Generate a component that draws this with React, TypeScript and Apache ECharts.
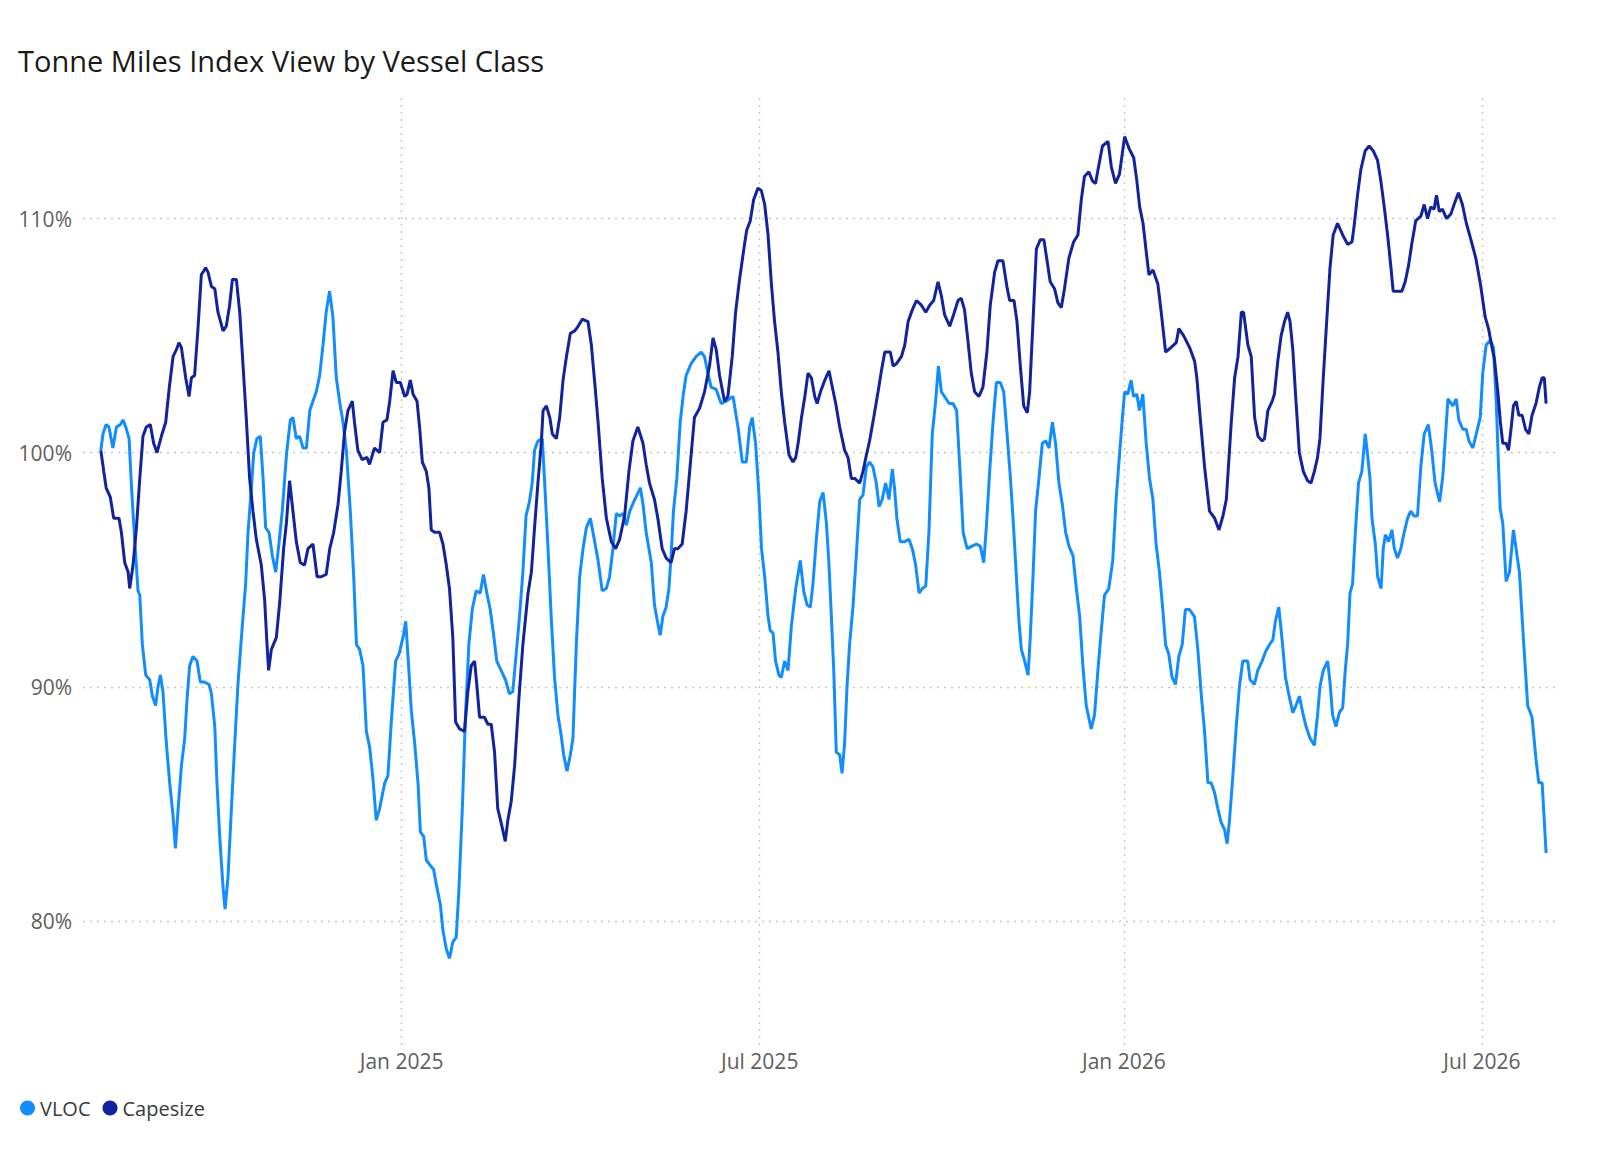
import * as echarts from "echarts";
import { useEffect, useRef } from "react";

// day 0 of both series = 2 Aug 2024
const START = Date.UTC(2024, 7, 2);
const DAY = 86400000;

const MONTHS = ["Jan", "Feb", "Mar", "Apr", "May", "Jun", "Jul", "Aug", "Sep", "Oct", "Nov", "Dec"];
const X_MIN = Date.UTC(2024, 6, 24);
const X_MAX = Date.UTC(2026, 7, 8, 10);
const Y_MIN = 74.7;
const Y_MAX = 115.15;

const TITLE = "Tonne Miles Index View by Vessel Class";
const SERIES_NAMES = ["VLOC", "Capesize"];
const COLORS = ["#118DFF", "#12239E"];

// [days since START, index %]
const vloc: [number, number][] = [
  [0, 100.1], [1.1, 100.8], [2.7, 101.2], [4.1, 101.1], [6.1, 100.2], [7.9, 101.1], [9.9, 101.2], [11.2, 101.4],
  [12.6, 101.1], [14.3, 100.6], [15.4, 98.7], [17.1, 96.3], [18.8, 94.1], [19.7, 93.9], [21, 91.8], [22.7, 90.5],
  [24.7, 90.3], [26.1, 89.6], [27.7, 89.2], [28.9, 90], [30.1, 90.5], [31.4, 89.8], [33.1, 87.6], [34.8, 85.9],
  [36.5, 84.5], [37.7, 83.1], [39, 84.7], [40.7, 86.6], [42.4, 87.8], [43.6, 89.5], [44.9, 90.9], [46.6, 91.3],
  [48.6, 91.1], [50.3, 90.2], [52.5, 90.2], [54.7, 90.1], [55.9, 89.7], [57.6, 88.3], [58.7, 85.9], [60.1, 83.6],
  [61.8, 81.4], [62.8, 80.5], [64.3, 81.9], [66, 84.8], [67.7, 87.6], [69.3, 90.1], [71.5, 92.6], [73.2, 94.4],
  [74.4, 96.6], [76.1, 98.5], [77.3, 100], [78.9, 100.6], [80.6, 100.7], [82, 98.9], [83.3, 96.8], [85, 96.6],
  [86.7, 95.6], [88.4, 94.9], [90, 96.1], [91.7, 97.5], [93.8, 99.9], [95.8, 101.4], [97.1, 101.5], [98.8, 100.6],
  [100.5, 100.7], [102.2, 100.2], [103.9, 100.2], [105.6, 101.8], [107.2, 102.2], [108.9, 102.6], [110.6, 103.3],
  [112.3, 104.6], [113.9, 106], [115.6, 106.9], [117.3, 105.8], [119, 103.2], [121, 102], [122.4, 101.3],
  [124.1, 100.1], [126.1, 97.5], [127.8, 94.7], [129.2, 91.8], [130.8, 91.6], [132.5, 90.9], [134.2, 88.1],
  [135.9, 87.4], [137.5, 86.1], [139.2, 84.3], [140.9, 84.8], [143.5, 85.9], [145.1, 86.2], [146.8, 88.5],
  [149, 91.1], [150.7, 91.4], [152.7, 92.1], [154.1, 92.8], [155.7, 90.7], [156.9, 89], [158.6, 87.6],
  [160.3, 85.9], [161.5, 83.8], [163.2, 83.6], [164.5, 82.6], [166.2, 82.4], [168.2, 82.2], [169.9, 81.4],
  [171.6, 80.7], [172.9, 79.6], [174.6, 78.8], [176.2, 78.4], [177.9, 79.1], [179.6, 79.3], [180.9, 81.2],
  [182.7, 84.8], [184.3, 88.8], [186, 91.8], [187.7, 93.3], [189.7, 94.1], [191.7, 94], [193.4, 94.8],
  [195.1, 94], [196.8, 93.3], [198.4, 92.3], [200.1, 91.1], [202.3, 90.7], [204.5, 90.3], [206.5, 89.7],
  [208.2, 89.8], [209.9, 91.4], [211.6, 93], [213.3, 94.9], [214.9, 97.3], [216.6, 97.9], [218, 98.7],
  [219.2, 100.1], [220.9, 100.5], [223.1, 100.6], [224.2, 98.9], [225.9, 96.1], [227.6, 93], [229.3, 90.4],
  [231, 88.8], [232.7, 87.9], [233.9, 87.1], [235.6, 86.4], [237.3, 87.1], [238.6, 87.8], [240.3, 91.8],
  [242, 94.7], [243.7, 95.9], [245.4, 96.8], [247.4, 97.2], [249.6, 96.2], [251.3, 95.4], [253.4, 94.1],
  [255.5, 94.2], [257.1, 94.7], [258.8, 95.9], [260.5, 97.4], [262.2, 97.3], [263.9, 97.4], [265.6, 96.9],
  [267.3, 97.5], [269.3, 97.9], [271, 98.2], [272.7, 98.5], [274, 97.8], [275.6, 96.6], [278.2, 95.3],
  [279.8, 93.5], [281.5, 92.7], [282.7, 92.2], [284, 93], [285.7, 93.4], [287.1, 94.2], [288.2, 95.6],
  [289.4, 97.5], [291.1, 98.9], [292.8, 101.3], [294.4, 102.5], [295.8, 103.3], [298.3, 103.8], [300.8, 104.1],
  [303.4, 104.3], [305.1, 104.1], [306.8, 103.4], [308.4, 102.8], [311, 102.7], [313.5, 102.1], [316, 102.2],
  [319.5, 102.4], [322, 101.1], [324.2, 99.6], [326.2, 99.6], [327.9, 101.1], [329.2, 101.5], [330.9, 100.4],
  [332.6, 98.2], [333.9, 95.9], [335.5, 94.7], [337.2, 93], [338.3, 92.4], [339.7, 92.3], [341, 91.1],
  [342.7, 90.5], [343.9, 90.4], [345.6, 91.1], [347.3, 90.7], [349, 92.6], [351.2, 94.2], [353.5, 95.4],
  [355.2, 94.1], [356.9, 93.5], [358.6, 93.4], [359.9, 94.4], [361.6, 96.3], [363.3, 97.9], [365, 98.3],
  [366.7, 97], [368, 95.2], [369.2, 93], [370.4, 90.7], [371.7, 87.2], [373.4, 87.1], [374.6, 86.3],
  [375.9, 87.6], [377.1, 90], [378.4, 91.8], [380.1, 93.4], [381.8, 95.6], [383.5, 98], [385.2, 98.2],
  [386.9, 99.4], [388.5, 99.6], [390.2, 99.4], [391.9, 98.7], [393.3, 97.7], [394.9, 98], [396.6, 98.7],
  [398.3, 98], [400, 99.3], [401.1, 98.5], [402.3, 97.2], [404, 96.2], [406.2, 96.2], [408.4, 96.3],
  [410.1, 95.9], [411.8, 95.2], [413.5, 94], [415.2, 94.2], [416.9, 94.3], [418.5, 96.6], [420.2, 100.8],
  [421.9, 102.2], [423.3, 103.7], [424.8, 102.6], [426.4, 102.4], [428.7, 102.1], [430.7, 102.1], [432.5, 101.8],
  [434.1, 99.4], [435.8, 96.6], [437.8, 95.9], [440, 96], [442.5, 96.1], [444.5, 96], [446.2, 95.3],
  [447.5, 96.8], [449.2, 99.2], [450.9, 101.3], [452.6, 103], [454.6, 103], [456.3, 102.6], [458, 100.8],
  [459.7, 98.9], [461.3, 96.8], [462.7, 94.7], [464, 92.8], [465.2, 91.6], [466.9, 91.1], [468.6, 90.5],
  [469.7, 92.1], [471.1, 94.7], [472.4, 97.5], [474.1, 98.9], [475.8, 100.4], [477.5, 100.5], [479.2, 100.2],
  [480.9, 101.3], [482.5, 100.4], [484.2, 98.7], [485.9, 97.8], [487.6, 96.6], [489.3, 96], [491.3, 95.6],
  [493, 94.2], [494.7, 93], [496.3, 90.9], [498, 89.2], [500.5, 88.2], [502.2, 88.8], [503.9, 90.7],
  [505.6, 92.4], [507.2, 93.9], [509.4, 94.2], [511.4, 95.4], [513.1, 98], [514.8, 99.9], [516.1, 101.3],
  [517.4, 102.6], [519, 102.5], [520.7, 103.1], [521.9, 102.4], [523.6, 102.5], [524.9, 101.8], [526.6, 102.5],
  [528.3, 100.4], [530, 98.9], [531.7, 98], [533.3, 96.1], [535, 94.9], [536.7, 93.3], [538.1, 91.8],
  [539.7, 91.4], [541.4, 90.4], [543.1, 90.1], [544.8, 91.3], [546.5, 91.8], [548.1, 93.3], [550.2, 93.3],
  [552.7, 93], [554.4, 91.6], [556.1, 89.7], [557.8, 88.1], [559.5, 85.9], [561.1, 85.9], [562.8, 85.5],
  [564.5, 84.8], [566.2, 84.2], [567.9, 83.9], [569.2, 83.3], [570.4, 84.3], [572.1, 86.2], [573.8, 88.3],
  [575.4, 90], [577.1, 91.1], [579.6, 91.1], [580.8, 90.3], [583, 90.1], [584.7, 90.7], [586.9, 91.1],
  [588.6, 91.5], [590.6, 91.8], [592.3, 92], [593.6, 92.8], [595.3, 93.4], [597, 92], [598.7, 90.4],
  [600.3, 89.7], [602.4, 88.9], [604, 89.2], [605.7, 89.6], [607.4, 88.9], [609.1, 88.3], [611.1, 87.8],
  [613.3, 87.5], [614.9, 88.8], [616.1, 90], [617.8, 90.7], [620, 91.1], [621.2, 90.2], [622.5, 88.8],
  [624.2, 88.3], [625.9, 88.9], [627.6, 89.1], [628.9, 90.7], [630.1, 91.8], [631.3, 94], [632.6, 94.4],
  [634, 96.6], [635.6, 98.7], [637.3, 99.2], [639, 100.8], [640.2, 99.9], [641.4, 98.9], [642.4, 97.2],
  [644.1, 96.1], [645.3, 94.7], [647, 94.2], [648.1, 95.9], [649.2, 96.5], [650.8, 96.2], [652.5, 96.7],
  [653.7, 95.9], [655.3, 95.5], [657, 95.9], [658.7, 96.6], [660.4, 97.2], [662, 97.5], [663.7, 97.3],
  [665.4, 97.3], [667.1, 99.4], [668.8, 100.8], [670.9, 101.2], [672.6, 100.1], [674.3, 98.7], [676.6, 97.9],
  [678.2, 99], [680.8, 102.3], [683.3, 102], [685, 102.3], [686.3, 101.4], [688.3, 101], [690, 101],
  [691.4, 100.5], [693.4, 100.2], [695.1, 100.8], [697.1, 101.5], [698.4, 103.4], [700.1, 104.6], [702.2, 104.8],
  [703.8, 104.5], [705.2, 102.2], [706.5, 99.1], [707.2, 97.6], [708.5, 97], [710.2, 94.5], [711.9, 94.9],
  [713.9, 96.7], [716.9, 94.9], [718.9, 92.1], [721.1, 89.2], [723.3, 88.7], [725.3, 86.9], [726.7, 85.9],
  [728.4, 85.9], [730.4, 82.9],
];

const capesize: [number, number][] = [
  [0, 100.1], [1.5, 99.2], [2.7, 98.5], [4.8, 98.1], [6.5, 97.2], [9.2, 97.2], [10.4, 96.6], [12.1, 95.3],
  [13.8, 94.9], [14.6, 94.2], [16.3, 95.2], [18, 96.8], [19.7, 98.9], [21.3, 100.7], [23, 101.1], [25, 101.2],
  [26.7, 100.4], [28.4, 100], [30.6, 100.7], [32.8, 101.3], [34.5, 102.7], [36.5, 104.1], [38.2, 104.4],
  [39.5, 104.7], [40.7, 104.5], [42.9, 103.2], [44.6, 102.4], [45.8, 103.2], [47.4, 103.3], [49.1, 105.3],
  [50.8, 107.6], [53, 107.9], [54.2, 107.7], [55.9, 107.1], [57.6, 107], [59.2, 106], [61.8, 105.2],
  [63.4, 105.4], [65.1, 106.3], [66.5, 107.4], [68.5, 107.4], [70.2, 106], [71.9, 103.7], [73.5, 101.5],
  [75.2, 98.9], [76.9, 97.5], [78.6, 96.3], [81.1, 95.2], [82.8, 93.7], [84, 91.8], [84.8, 90.7], [86.2, 91.6],
  [88.7, 92.1], [90.4, 93.6], [92.4, 95.9], [93.8, 97], [95.4, 98.8], [97.1, 97.5], [98.8, 96.2], [100.8, 95.3],
  [103, 95.2], [104.7, 95.9], [107.2, 96.1], [109.3, 94.7], [111.4, 94.7], [113.9, 94.8], [115.7, 95.9],
  [117.7, 96.6], [119.9, 97.8], [121.5, 99.2], [123.2, 100.9], [124.9, 101.8], [127.1, 102.2], [128.2, 101.3],
  [129.9, 100.1], [132.1, 99.7], [134.5, 99.8], [135.8, 99.5], [138.3, 100.2], [140.9, 100], [142.6, 101.3],
  [144.6, 101.4], [146, 102.2], [147.7, 103.5], [149.3, 103], [151.4, 103], [153.6, 102.4], [154.8, 102.5],
  [156.4, 103.1], [157.8, 102.5], [159.8, 102.2], [161.1, 101.1], [162.5, 99.6], [164.5, 99.2], [165.8, 98.5],
  [167, 96.7], [168.7, 96.6], [171.2, 96.6], [172.9, 96.1], [174.6, 95.2], [176.2, 94.2], [177.9, 92.1],
  [179.3, 88.5], [181.3, 88.2], [183.8, 88.1], [185.5, 89.8], [187.2, 90.9], [188.9, 91.1], [190, 90.1],
  [191.4, 88.7], [193.9, 88.7], [195.6, 88.4], [197.3, 88.4], [199, 87.2], [200.6, 84.8], [202.3, 84.2],
  [204.4, 83.4], [205.7, 84.3], [207.4, 85.1], [209.1, 86.6], [211.3, 89.5], [213.3, 91.8], [215.9, 94],
  [217.6, 94.9], [219.2, 96.8], [220.9, 98.7], [222.6, 100.4], [223.5, 101.8], [225.2, 102], [226.9, 101.5],
  [228.2, 100.8], [230.2, 100.6], [231.9, 101.5], [233.6, 103.1], [235.3, 104.1], [237.3, 105.1], [239.5, 105.2],
  [241.2, 105.4], [243.3, 105.7], [246.2, 105.6], [247.9, 104.6], [249.6, 103], [251.3, 101.3], [253.4, 98.9],
  [255.5, 97.2], [258, 96.2], [260.2, 95.9], [262.2, 96.3], [264.7, 97.3], [266.9, 99.2], [268.9, 100.5],
  [271.4, 101.1], [274, 100.4], [275.6, 99.5], [277.3, 98.7], [279.8, 98], [281.5, 97.2], [283.7, 95.9],
  [285.7, 95.5], [288.2, 95.3], [289.9, 95.9], [291.6, 95.9], [293.8, 96.1], [295.8, 97.5], [297.8, 99.4],
  [300, 101.5], [302.6, 101.9], [305.1, 102.6], [307.6, 103.7], [309.4, 104.9], [311, 104.4], [312.7, 103.3],
  [315.2, 102.2], [316.9, 102.4], [319.1, 104.1], [320.8, 106], [322.8, 107.4], [324.8, 108.6], [326.4, 109.5],
  [328.2, 109.9], [329.9, 110.8], [332.1, 111.3], [333.8, 111.2], [335.5, 110.6], [337.2, 109.3], [338.9, 107.2],
  [340.5, 105.6], [342.2, 104.3], [343.9, 102.6], [345.6, 101.3], [347.8, 99.9], [349.8, 99.6], [351.2, 99.8],
  [352.4, 100.4], [354.1, 101.5], [355.8, 102.4], [357.4, 103.4], [359.1, 103.2], [360.8, 102.4], [362, 102.1],
  [363.7, 102.6], [365.9, 103.1], [368, 103.5], [369.2, 103], [371.4, 102.1], [373.4, 101.1], [375.9, 100.1],
  [377.6, 99.8], [379.3, 98.9], [381, 98.9], [383.5, 98.7], [385.2, 99.2], [386.9, 99.9], [388.5, 100.5],
  [390.6, 101.5], [392.8, 102.6], [394.5, 103.5], [396.2, 104.3], [399, 104.3], [400.4, 103.7], [402.1, 103.8],
  [404.6, 104.1], [406.3, 104.6], [408, 105.6], [410.1, 106.1], [412.2, 106.5], [414.7, 106.3], [416.9, 106],
  [418.9, 106.3], [420.9, 106.5], [423.1, 107.3], [424.8, 106.7], [426.4, 105.9], [429, 105.4], [431, 105.9],
  [433.2, 106.5], [434.8, 106.6], [436.5, 106.1], [438.2, 104.8], [439.9, 103.4], [441.6, 102.6], [443.8, 102.4],
  [445.8, 102.8], [447.8, 104.3], [449.5, 106.3], [451.7, 107.7], [453.4, 108.2], [455.9, 108.2], [457.9, 107.1],
  [459.3, 106.5], [461.5, 106.5], [463, 105.6], [464.7, 103.7], [466.4, 102], [468.2, 101.7], [469.4, 102.6],
  [471.1, 105.6], [472.8, 108.7], [474.8, 109.1], [476.6, 109.1], [478.2, 108.2], [479.8, 107.3], [482, 107],
  [483.7, 106.4], [485.4, 106.2], [487, 107], [489.2, 108.3], [491.6, 109], [493.8, 109.3], [495.5, 110.8],
  [497.1, 111.8], [499.3, 112], [501.2, 111.6], [502.7, 111.5], [504.2, 112.2], [506.2, 113.1], [509, 113.3],
  [510.7, 112.2], [512.8, 111.5], [514.8, 111.9], [517.4, 113.5], [519.6, 113], [522, 112.6], [523.6, 111.6],
  [525, 110.5], [526.7, 109.8], [528.3, 108.6], [529.7, 107.6], [531.7, 107.8], [534.2, 107.2], [535.9, 106],
  [538.1, 104.3], [540.9, 104.5], [543.5, 104.7], [544.8, 105.3], [547.2, 105], [550.2, 104.5], [552.8, 103.9],
  [553.9, 103.2], [555.6, 101.5], [557.8, 99.4], [560.3, 97.5], [562.9, 97.2], [565.1, 96.7], [567.1, 97.3],
  [568.8, 98], [571.3, 101.3], [573, 103.2], [574.7, 104.1], [576.4, 106], [577.5, 106], [579.7, 104.6],
  [581.4, 104.1], [583.1, 101.5], [584.8, 100.7], [586.9, 100.5], [588.1, 100.6], [589.8, 101.8], [592, 102.2],
  [593.1, 102.5], [594.8, 103.9], [596.5, 105], [598.2, 105.6], [599.8, 106], [601, 105.6], [602.4, 104.4],
  [604, 102.2], [605.7, 100], [607.7, 99.2], [609.9, 98.8], [611.6, 98.7], [613.3, 99.2], [614.9, 99.8],
  [616.1, 100.6], [617.8, 103.2], [619.5, 105.6], [621.2, 107.9], [622.8, 109.3], [625, 109.8], [627.6, 109.3],
  [630.1, 108.9], [632.3, 109], [633.4, 109.7], [635.1, 111], [636.8, 112.1], [639, 112.9], [641, 113.1],
  [643, 112.9], [645.2, 112.5], [646.9, 111.6], [648.6, 110.5], [650.3, 109.3], [652, 107.9], [653.1, 106.9],
  [655.3, 106.9], [657.5, 106.9], [659.2, 107.3], [660.9, 108], [662.5, 108.9], [664.5, 109.9], [667.1, 110.1],
  [668.8, 110.6], [670.5, 110], [672.1, 110.5], [673.8, 110.4], [675, 111], [676.4, 110.3], [678, 110.4],
  [680.1, 110], [682.3, 110.2], [683.9, 110.6], [686.1, 111.1], [688.1, 110.6], [690.1, 109.8], [692.4, 109.1],
  [694.9, 108.3], [697.4, 107.1], [699.6, 105.8], [701.3, 105.3], [703.3, 104.4], [704.3, 104], [706, 102.6],
  [707.3, 101.3], [708.5, 100.4], [710.2, 100.4], [711.4, 100.1], [712.8, 101.1], [713.9, 102], [715.3, 102.2],
  [716.6, 101.6], [718.3, 101.6], [720, 101], [721.7, 100.8], [723.3, 101.6], [725.3, 102.1], [727, 102.8],
  [728.4, 103.2], [729.5, 103.2], [730.4, 102.1],
];

const FONT = '"Segoe UI", "Open Sans", "Noto Sans", sans-serif';

const toTime = (pts: [number, number][]) => pts.map(([d, v]) => [START + d * DAY, v]);

// only Jan 1 / Jul 1 ticks get a label
const dateLabel = (value: number) => {
  const d = new Date(value);
  const m = d.getUTCMonth();
  if (d.getUTCDate() !== 1 || (m !== 0 && m !== 6) || d.getUTCHours() !== 0) return "";
  return `${MONTHS[m]} ${d.getUTCFullYear()}`;
};

function App() {
  const chartRef = useRef<HTMLDivElement>(null);

  useEffect(() => {
    const chart = echarts.init(chartRef.current, null, { renderer: "svg" });

    const gridLine = { color: "#C8C6C4", width: 1.4, type: [2, 5] };

    chart.setOption({
      animation: false,
      useUTC: true,
      backgroundColor: "#ffffff",
      color: COLORS,
      title: {
        text: TITLE,
        left: 18,
        top: 46,
        padding: 0,
        textStyle: { fontFamily: FONT, fontSize: 29, fontWeight: "normal", color: "#1b1a19" },
      },
      legend: {
        data: SERIES_NAMES,
        left: 20,
        top: 1098,
        padding: 0,
        icon: "circle",
        itemWidth: 15,
        itemHeight: 15,
        itemGap: 12,
        textStyle: { fontFamily: FONT, fontSize: 20, fontWeight: 500, color: "#3b3a39" },
      },
      grid: { left: 83, right: 60, top: 98, bottom: 111, containLabel: false, outerBoundsMode: "none" },
      xAxis: {
        type: "time",
        min: X_MIN,
        max: X_MAX,
        splitNumber: 4,
        minInterval: 180 * DAY,
        maxInterval: 184 * DAY,
        axisLine: { show: false },
        axisTick: { show: false },
        splitLine: { show: true, lineStyle: gridLine, showMinLine: false, showMaxLine: false },
        axisLabel: {
          margin: 5,
          fontFamily: FONT,
          fontSize: 21,
          fontWeight: "normal",
          color: "#605E5C",
          showMinLabel: false,
          showMaxLabel: false,
          hideOverlap: false,
          formatter: dateLabel,
        },
      },
      yAxis: {
        type: "value",
        min: Y_MIN,
        max: Y_MAX,
        splitNumber: 4,
        axisLine: { show: false },
        axisTick: { show: false },
        splitLine: { show: true, lineStyle: gridLine, showMinLine: false, showMaxLine: false },
        axisLabel: {
          margin: 11,
          fontFamily: FONT,
          fontSize: 21,
          color: "#605E5C",
          showMinLabel: false,
          showMaxLabel: false,
          formatter: (v: number) => (Math.abs(v % 10) < 1e-6 ? `${v}%` : ""),
        },
      },
      series: [
        {
          name: SERIES_NAMES[0],
          type: "line",
          data: toTime(vloc),
          showSymbol: false,
          lineStyle: { width: 3, color: COLORS[0] },
          itemStyle: { color: COLORS[0] },
          z: 2,
        },
        {
          name: SERIES_NAMES[1],
          type: "line",
          data: toTime(capesize),
          showSymbol: false,
          lineStyle: { width: 3, color: COLORS[1] },
          itemStyle: { color: COLORS[1] },
          z: 3,
        },
      ],
    });

    return () => {
      chart.dispose();
    };
  }, []);

  return (
    <div
      ref={chartRef}
      style={{ position: "fixed", left: 0, top: 0, width: "1618px", height: "1156px", background: "#fff" }}
    />
  );
}

export default App;
